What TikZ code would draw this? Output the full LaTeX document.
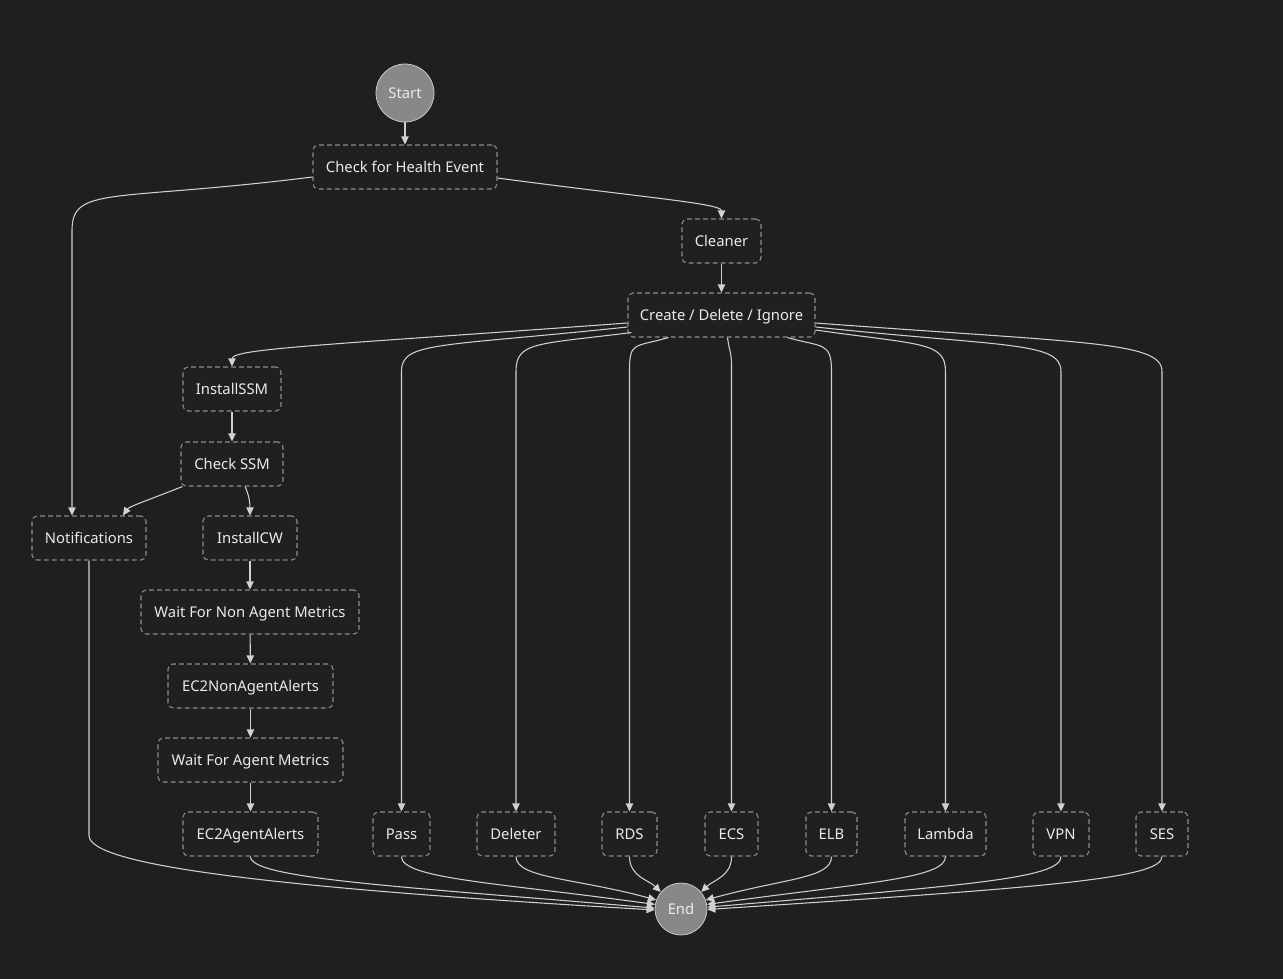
\documentclass[tikz,border=0pt]{standalone}
\usepackage{fontspec}
\setmainfont{Noto Sans}
\usetikzlibrary{arrows.meta,calc}
\definecolor{bg}{HTML}{1F1F1F}
\definecolor{boxfill}{HTML}{1F2020}
\definecolor{boxline}{HTML}{8C8C8C}
\definecolor{edgecol}{HTML}{D0D0D0}
\definecolor{txt}{HTML}{EAEAEA}
\definecolor{circfill}{HTML}{888888}
\definecolor{circline}{HTML}{C8C8C8}
\tikzset{
  stbox/.style={draw=boxline, fill=boxfill, line width=0.8pt, dash pattern=on 3.6pt off 2.4pt,
    rounded corners=3.8pt, minimum height=33pt, inner sep=0pt, text=txt,
    text height=7.9pt, text depth=0pt,
    font=\fontsize{11.1}{13}\selectfont},
  bw/.style={minimum width=#1*0.75pt},
  endpt/.style={circle, fill=circfill, draw=circline, line width=0.6pt, text=txt, inner sep=0pt,
    text height=7.9pt, text depth=0pt,
    font=\fontsize{11.1}{13}\selectfont},
  edge/.style={draw=edgecol, line width=0.8pt, -{Triangle[length=6pt,width=5.5pt]}},
}
\begin{document}
\begin{tikzpicture}[x=0.75pt,y=-0.75pt]
\fill[bg] (0,0) rectangle (1283,979);
\useasboundingbox (0,0) rectangle (1283,979);

\node[endpt, minimum size=43.5pt] (start) at (405,93) {Start};
\node[stbox,bw=184] (check) at (405,167) {Check for Health Event};
\node[stbox,bw=79] (cleaner) at (721.5,241) {Cleaner};
\node[stbox,bw=187] (cdi) at (721.5,315) {Create / Delete / Ignore};
\node[stbox,bw=98] (installssm) at (232,389) {InstallSSM};
\node[stbox,bw=102] (checkssm) at (232,464) {Check SSM};
\node[stbox,bw=114] (notif) at (89,538) {Notifications};
\node[stbox,bw=94] (installcw) at (250,538) {InstallCW};
\node[stbox,bw=218] (waitnon) at (250,612) {Wait For Non Agent Metrics};
\node[stbox,bw=165] (nonagent) at (250.5,686) {EC2NonAgentAlerts};
\node[stbox,bw=185] (waitag) at (250.5,760) {Wait For Agent Metrics};
\node[stbox,bw=135] (agent) at (250.5,834) {EC2AgentAlerts};
\node[stbox,bw=57] (pass) at (401.5,834) {Pass};
\node[stbox,bw=78] (deleter) at (516,834) {Deleter};
\node[stbox,bw=55] (rds) at (629.5,834) {RDS};
\node[stbox,bw=53] (ecs) at (731.5,834) {ECS};
\node[stbox,bw=51] (elb) at (831.5,834) {ELB};
\node[stbox,bw=81] (lambda) at (945.5,834) {Lambda};
\node[stbox,bw=56] (vpn) at (1061,834) {VPN};
\node[stbox,bw=52] (ses) at (1162,834) {SES};
\node[endpt, minimum size=39pt] (end) at (681,909) {End};

% top part
\draw[edge] (start) -- (check);
\draw[edge] ($(check.west)+(0,10)$) .. controls +(-200,25) and +(0,-45) .. ($(notif.north)+(-17,-285)$) -- ($(notif.north)+(-17,0)$);
\draw[edge] ($(check.east)+(0,11)$) .. controls +(150,20) and +(0,-15) .. (cleaner.north);
\draw[edge] (cleaner) -- (cdi);

% fan out of Create / Delete / Ignore
\draw[edge] ($(cdi.west)+(0,8)$) .. controls +(-300,22) and +(0,-18) .. (installssm.north);
\draw[edge] ($(cdi.west)+(0,12)$) .. controls +(-190,20) and +(0,-30) .. ($(pass.north)+(0,-440)$) -- (pass.north);
\draw[edge] ($(cdi.south west)+(4,-5)$) .. controls +(-95,12) and +(0,-30) .. ($(deleter.north)+(0,-440)$) -- (deleter.north);
\draw[edge] ($(cdi.south)+(-53,0)$) .. controls +(-35,10) and +(0,-30) .. ($(rds.north)+(0,-440)$) -- (rds.north);
\draw[edge] ($(cdi.south)+(6,0)$) .. controls +(2,15) and +(0,-15) .. ($(ecs.north)+(0,-445)$) -- (ecs.north);
\draw[edge] ($(cdi.south)+(66,0)$) .. controls +(35,10) and +(0,-30) .. ($(elb.north)+(0,-440)$) -- (elb.north);
\draw[edge] ($(cdi.east)+(0,15)$) .. controls +(105,15) and +(0,-30) .. ($(lambda.north)+(0,-440)$) -- (lambda.north);
\draw[edge] ($(cdi.east)+(0,12)$) .. controls +(190,20) and +(0,-30) .. ($(vpn.north)+(0,-440)$) -- (vpn.north);
\draw[edge] ($(cdi.east)+(0,8)$) .. controls +(270,20) and +(0,-30) .. ($(ses.north)+(0,-440)$) -- (ses.north);

% left chain
\draw[edge] (installssm) -- (checkssm);
\draw[edge] ($(checkssm.south west)+(2,0)$) .. controls +(-30,12) and +(6,-9) .. ($(notif.north)+(34,0)$);
\draw[edge] ($(checkssm.south)+(13,0)$) .. controls +(4,8) and +(0,-12) .. (installcw.north);
\draw[edge] (installcw) -- (waitnon);
\draw[edge] (waitnon) -- (nonagent);
\draw[edge] (nonagent) -- (waitag);
\draw[edge] (waitag) -- (agent);

% into End
\draw[edge] (notif.south) -- ($(notif.south)+(0,275)$) .. controls +(0,30) and +(-380,-22) .. (end.182);
\draw[edge] (agent.south) .. controls +(0,22) and +(-260,-22) .. (end.178);
\draw[edge] (pass.south) .. controls +(0,22) and +(-160,-22) .. (end.170);
\draw[edge] (deleter.south) .. controls +(0,22) and +(-80,-22) .. (end.160);
\draw[edge] (rds.south) .. controls +(0,20) and +(-12,-12) .. (end.140);
\draw[edge] (ecs.south) .. controls +(0,20) and +(12,-12) .. (end.40);
\draw[edge] (elb.south) .. controls +(0,22) and +(80,-22) .. (end.20);
\draw[edge] (lambda.south) .. controls +(0,22) and +(160,-22) .. (end.10);
\draw[edge] (vpn.south) .. controls +(0,22) and +(260,-22) .. (end.4);
\draw[edge] (ses.south) .. controls +(0,22) and +(340,-22) .. (end.-1);
\end{tikzpicture}
\end{document}
